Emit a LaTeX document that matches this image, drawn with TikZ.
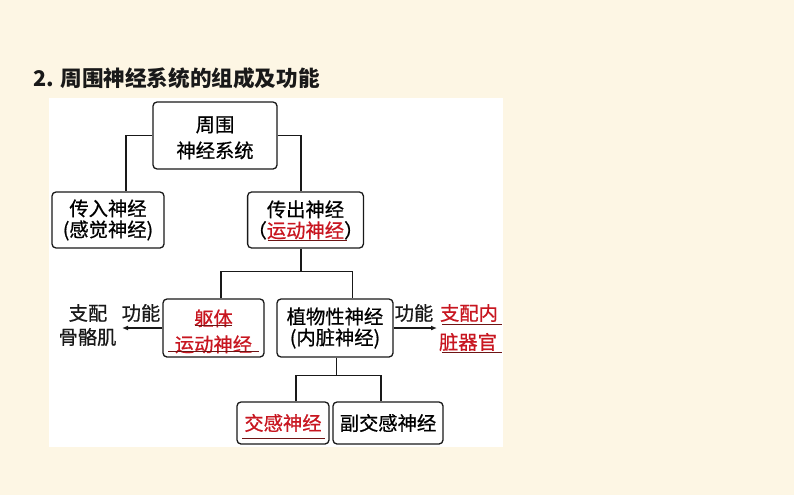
\documentclass[tikz,border=0pt]{standalone}
\usepackage{fontspec}
\setmainfont{Noto Sans CJK SC}
\newfontfamily\dfont[FakeBold=0.7]{Noto Sans CJK SC}
\usetikzlibrary{arrows.meta}
\definecolor{bgc}{RGB}{253,246,228}
\definecolor{redt}{RGB}{200,22,32}
\definecolor{ulc}{RGB}{110,20,20}
\definecolor{boxc}{RGB}{25,25,25}
\begin{document}
\begin{tikzpicture}[x=1pt,y=-1pt,
  box/.style={draw=boxc,line width=1.3pt,rounded corners=4pt,inner sep=0pt,align=center,
    font=\dfont\fontsize{19.3}{21}\selectfont},
  conn/.style={line width=1.2pt,draw=boxc},
  arr/.style={conn,-{Latex[length=6pt,width=5pt]}},
  txt/.style={inner sep=0pt,font=\dfont\fontsize{19.3}{21}\selectfont,text=boxc},
  rtxt/.style={txt,text=redt},
  uline/.style={line width=1pt,draw=ulc}]
\useasboundingbox (0,0) rectangle (794,495);
\fill[bgc] (0,0) rectangle (794,495);
\fill[white] (49,98) rectangle (503,447);

\node[anchor=west,inner sep=0pt,font=\fontsize{21.6}{24}\selectfont\bfseries,text=boxc] (title) at (33,78) {2. 周围神经系统的组成及功能};

% boxes
\node[box,minimum width=124pt,minimum height=67pt] (root) at (215,135.5) {\rule{0pt}{20pt}周围\\[5pt]神经系统};
\node[box,minimum width=112pt,minimum height=56pt] (aff) at (108,220) {传入神经\\(感觉神经)};
\node[box,minimum width=113pt,minimum height=56pt] (eff) at (305.5,220) {传出神经\\（\textcolor{redt}{运动神经}）};
\node[box,minimum width=101pt,minimum height=58pt] (som) at (213.5,328) {\rule{0pt}{23pt}\textcolor{redt}{躯体}\\[5pt]\textcolor{redt}{运动神经}};
\node[box,minimum width=116pt,minimum height=58pt] (veg) at (335,328) {\rule{0pt}{15pt}植物性神经\\(内脏神经)};
\node[box,minimum width=92pt,minimum height=42pt] (symp) at (283,423) {\textcolor{redt}{交感神经}};
\node[box,minimum width=110pt,minimum height=42pt] (para) at (388,423) {副交感神经};

% connectors
\draw[conn] (root.west) -| ([xshift=18pt]aff.north);
\draw[conn] (root.east) -| ([xshift=-4.5pt]eff.north);
\draw[conn] ([xshift=-4.5pt]eff.south) -- ++(0,22.5) coordinate (j1);
\draw[conn] ([xshift=7.5pt]som.north) |- (j1) -| ([xshift=17.5pt]veg.north);
\draw[conn] ([xshift=1.5pt]veg.south) -- ++(0,18) coordinate (j2);
\draw[conn] ([xshift=13pt]symp.north) |- (j2) -| ([xshift=-7pt]para.north);

% functions
\coordinate (lend) at (122,328);
\coordinate (rend) at (437,328);
\draw[arr] (som.west) -- (lend);
\draw[arr] (veg.east) -- (rend);
\node[txt] (f1) at (141,313) {功能};
\node[txt] (zp) at (88,313) {支配};
\node[txt] (ggj) at (87.5,337) {骨骼肌};
\node[txt] (f2) at (414,313) {功能};
\node[rtxt] (zpn) at (469,313) {支配内};
\node[rtxt] (zqg) at (468,342) {脏器官};

% underlines
\draw[uline] (267.5,240.5) -- (346.5,240.5);
\draw[uline] (195,325.5) -- (232,325.5);
\draw[uline] (168,351) -- (259,351);
\draw[uline] (442,324) -- (502,324);
\draw[uline] (442,352) -- (502,352);
\draw[uline] (242,438.5) -- (325,438.5);
\end{tikzpicture}
\end{document}
